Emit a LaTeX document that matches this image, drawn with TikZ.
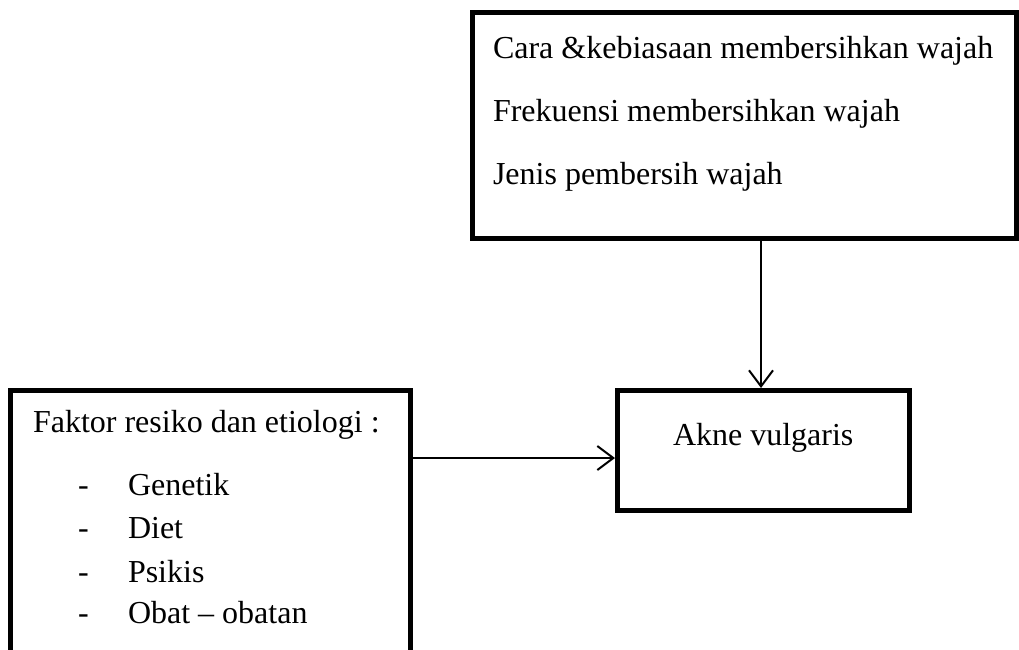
\documentclass[tikz,border=0pt]{standalone}
\usepackage{fontspec}
\setmainfont{Liberation Serif}
\usetikzlibrary{arrows.meta}
\tikzset{
  box/.style={draw=black, line width=5pt, fill=none, inner sep=0pt, outer sep=2.5pt},
  txt/.style={anchor=base west, inner sep=0pt, outer sep=0pt, font=\fontsize{32}{38}\selectfont},
  arr/.style={line width=2pt, -{Straight Barb[length=16pt, width=24pt, line width=2pt]}}
}
\begin{document}
\begin{tikzpicture}[x=1pt,y=-1pt]
\clip (0,0) rectangle (1019,649);
\fill[white] (0,0) rectangle (1019,649);
% boxes
\node[box, minimum width=544pt, minimum height=226pt] (top) at (744.5,125.5) {};
\node[box, minimum width=292pt, minimum height=120pt] (akne) at (763.5,450.5) {};
\node[box, minimum width=400pt, minimum height=300pt] (left) at (210.5,540.5) {};
% texts
\node[txt] (t1) at (493,58) {Cara \&kebiasaan membersihkan wajah};
\node[txt] (t2) at (493,121) {Frekuensi membersihkan wajah};
\node[txt] (t3) at (493,184) {Jenis pembersih wajah};
\node[txt] (ak) at (673,445) {Akne vulgaris};
\node[txt] (f0) at (33,432) {Faktor resiko dan etiologi :};
\node[txt] (d1) at (78,495) {-};
\node[txt] (f1) at (128,495) {Genetik};
\node[txt] (d2) at (78,538) {-};
\node[txt] (f2) at (128,538) {Diet};
\node[txt] (d3) at (78,582) {-};
\node[txt] (f3) at (128,582) {Psikis};
\node[txt] (d4) at (78,623) {-};
\node[txt] (f4) at (128,623) {Obat -- obatan};
% connectors
\coordinate (vx) at (761,0);
\coordinate (hy) at (0,458);
\draw[arr] (top.south -| vx) -- (akne.north -| vx);
\draw[arr] (left.east |- hy) -- (akne.west |- hy);
\end{tikzpicture}
\end{document}
